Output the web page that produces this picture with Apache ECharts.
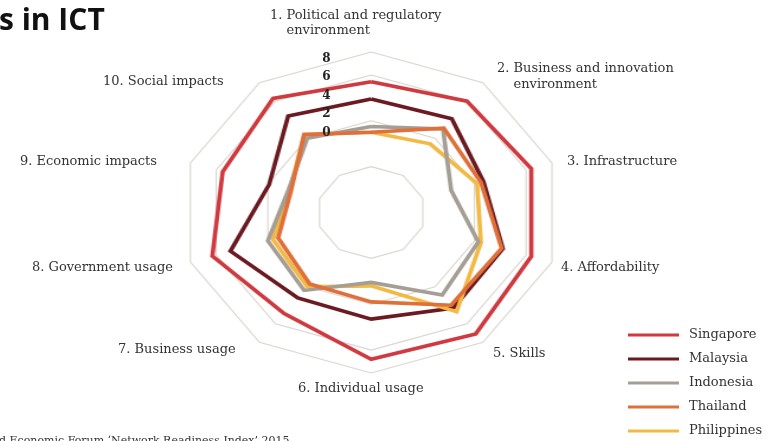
<!DOCTYPE html>
<html>
<head>
<meta charset="utf-8">
<script src="https://cdn.jsdelivr.net/npm/echarts@6/dist/echarts.min.js"></script>
<style>
  html, body { margin: 0; padding: 0; background: #fff; overflow: hidden; }
  #wrap { position: relative; width: 771px; height: 441px; overflow: hidden; background: #fff; }
  /* radar layer is drawn narrower and widened, giving the decagon its wide shape */
  #radar { position: absolute; left: 0; top: 0; width: 651px; height: 441px;
           transform: scaleX(1.1843); transform-origin: 0 0; }
  #text { position: absolute; left: 0; top: 0; width: 771px; height: 441px; }
</style>
</head>
<body>
<div id="wrap"><div id="radar"></div><div id="text"></div></div>
<script>
// NRI 2015 pillars, in clockwise order starting at the top
const categories = [
  '1. Political and regulatory\nenvironment',
  '2. Business and innovation\nenvironment',
  '3. Infrastructure',
  '4. Affordability',
  '5. Skills',
  '6. Individual usage',
  '7. Business usage',
  '8. Government usage',
  '9. Economic impacts',
  '10. Social impacts'
];
const countries = ['Singapore', 'Malaysia', 'Indonesia', 'Thailand', 'Philippines'];

const singapore   = [5.7, 6.0, 6.2, 6.2, 6.55, 6.4, 5.45, 6.15, 5.75, 6.15];
const malaysia    = [4.95, 5.05, 4.35, 5.1, 5.15, 4.65, 4.6, 5.45, 3.95, 5.2];
const indonesia   = [3.75, 4.5, 3.1, 4.15, 4.45, 3.05, 4.2, 4.0, 3.2, 4.0];
const thailand    = [3.5, 4.55, 4.25, 5.05, 5.0, 3.9, 3.85, 3.6, 3.1, 4.2];
const philippines = [3.5, 3.7, 4.1, 4.25, 5.35, 3.2, 4.0, 3.8, 3.15, 4.2];

const tickLabels = ['8', '6', '4', '2', '0'];
const sourceText = 'd Economic Forum \u2018Network Readiness Index\u2019 2015';
const titleText = 's in ICT';

const seriesValues = {
  Singapore: singapore, Malaysia: malaysia, Indonesia: indonesia,
  Thailand: thailand, Philippines: philippines
};
const seriesColors = {
  Singapore: '#d0393f', Malaysia: '#6a1a20', Indonesia: '#a59e94',
  Thailand: '#e0703a', Philippines: '#f2b945'
};
// painting order (last on top)
const drawOrder = ['Singapore', 'Malaysia', 'Philippines', 'Indonesia', 'Thailand'];

// ECharts lays radar indicators out counter-clockwise; reorder so pillars run clockwise
const axisOrder = [0, 9, 8, 7, 6, 5, 4, 3, 2, 1];

const ringColor = '#dbd6cf';
const none = 'rgba(0,0,0,0)';

const radarChart = echarts.init(document.getElementById('radar'), null, { renderer: 'canvas' });
radarChart.setOption({
  animation: false,
  backgroundColor: '#fff',
  radar: {
    center: [313.4, 212.5],
    radius: 160.5,
    startAngle: 90,
    shape: 'polygon',
    splitNumber: 7,
    indicator: axisOrder.map(i => ({ name: categories[i], min: 0, max: 7 })),
    axisName: { show: false },
    axisLine: { show: false },
    axisTick: { show: false },
    axisLabel: { show: false },
    splitArea: { show: false },
    splitLine: {
      lineStyle: {
        width: 1.1,
        // rings drawn at 2, 4, 6 and the outer edge 7
        color: [none, none, ringColor, none, ringColor, none, ringColor, ringColor]
      }
    }
  },
  series: drawOrder.map(name => ({
    type: 'radar',
    name: name,
    symbol: 'none',
    silent: true,
    lineStyle: { width: 3.6, color: seriesColors[name], join: 'miter' },
    itemStyle: { color: seriesColors[name] },
    data: [{ name: name, value: axisOrder.map(i => seriesValues[name][i]) }]
  }))
});

// text layer: title, pillar names, scale labels, legend and source
const labelFont = '13px "DejaVu Serif"';
const labelColor = '#333';
const labelPos = [
  { x: 270, y: 15.5 }, { x: 497, y: 69 }, { x: 567, y: 162 }, { x: 561, y: 267.5 },
  { x: 493, y: 354 }, { x: 298, y: 389 }, { x: 118, y: 350 }, { x: 32, y: 267.5 },
  { x: 20, y: 162 }, { x: 103, y: 81.5 }
];
const lineStep = 15.5;
const indent = 16.5;

const graphics = [];
categories.forEach((name, i) => {
  const lines = name.split('\n');
  lines.forEach((line, j) => {
    graphics.push({
      type: 'text',
      silent: true,
      style: {
        text: line,
        x: labelPos[i].x + (j > 0 ? indent : 0),
        y: labelPos[i].y + j * lineStep,
        font: labelFont,
        fill: labelColor,
        verticalAlign: 'middle',
        align: 'left'
      }
    });
  });
});
tickLabels.forEach((t, i) => {
  graphics.push({
    type: 'text',
    silent: true,
    style: {
      text: t,
      x: 326.5,
      y: 58.5 + i * 18.6,
      font: 'bold 12px "DejaVu Serif"',
      fill: '#222',
      align: 'center',
      verticalAlign: 'middle'
    }
  });
});
graphics.push({
  type: 'text',
  silent: true,
  style: {
    text: titleText, x: -1, y: 21,
    font: 'bold 30px "Open Sans"', fill: '#111',
    align: 'left', verticalAlign: 'middle'
  }
});
graphics.push({
  type: 'text',
  silent: true,
  style: {
    text: sourceText, x: -1, y: 435.5,
    font: '11px "DejaVu Serif"', fill: '#333',
    align: 'left', verticalAlign: 'top'
  }
});

const textChart = echarts.init(document.getElementById('text'), null, { renderer: 'canvas' });
textChart.setOption({
  animation: false,
  backgroundColor: 'transparent',
  grid: { left: 0, right: 0, top: 0, bottom: 0, show: false },
  xAxis: { type: 'category', show: false, data: [] },
  yAxis: { type: 'value', show: false },
  legend: {
    orient: 'vertical',
    left: 628,
    top: 327,
    padding: 0,
    itemGap: 8,
    itemWidth: 51,
    itemHeight: 3,
    icon: 'rect',
    selectedMode: false,
    data: countries,
    textStyle: {
      fontFamily: 'DejaVu Serif',
      fontSize: 13,
      color: labelColor,
      lineHeight: 16,
      padding: [0, 0, 0, 5]
    }
  },
  series: countries.map(name => ({
    type: 'line',
    name: name,
    data: [],
    color: seriesColors[name],
    showSymbol: false,
    lineStyle: { color: seriesColors[name] }
  })),
  graphic: graphics
});
</script>
</body>
</html>
